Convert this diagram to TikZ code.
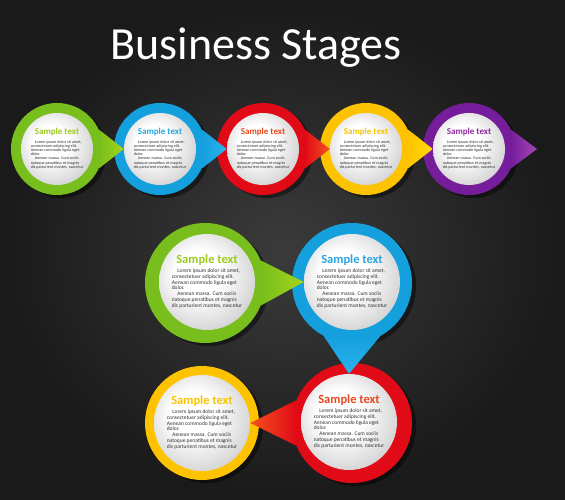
\documentclass[tikz,border=0pt]{standalone}
\usepackage{fontspec}
\setmainfont{Carlito}
\usetikzlibrary{shadows}

\definecolor{bgmid}{HTML}{3B3B3B}
\definecolor{bgdark}{HTML}{1A1A1A}
\definecolor{cgreen}{HTML}{78BE1C}
\definecolor{lgreen}{HTML}{A3D51C}
\definecolor{tgreen}{HTML}{9DCB1D}
\definecolor{cblue}{HTML}{149FDD}
\definecolor{lblue}{HTML}{2BB4EE}
\definecolor{tblue}{HTML}{2AA6DF}
\definecolor{cred}{HTML}{E10A17}
\definecolor{lred}{HTML}{F2521E}
\definecolor{tred}{HTML}{E8481D}
\definecolor{cyellow}{HTML}{FDC300}
\definecolor{lyellow}{HTML}{FFDE00}
\definecolor{tyellow}{HTML}{F8C400}
\definecolor{cpurple}{HTML}{761D9C}
\definecolor{lpurple}{HTML}{A447B6}
\definecolor{tpurple}{HTML}{8E2C9E}
\definecolor{bodytext}{HTML}{333333}

\pgfdeclarelayer{back}
\pgfdeclarelayer{front}
\pgfsetlayers{back,main,front}

\pgfdeclareradialshading{disc}{\pgfpoint{-6bp}{6bp}}{color(0bp)=(white); color(12bp)=(white); color(26bp)=(black!14); color(34bp)=(black!24); color(50bp)=(black!24)}

\newcommand\stagetext[3]{%
  \begin{tabular}{@{}l@{}}
    \multicolumn{1}{@{}c@{}}{\fontsize{#2}{#2}\selectfont\bfseries\color{#1}Sample text}\\[#3]
    \hspace{1em}Lorem ipsum dolor sit amet,\\
    consectetuer adipiscing elit.\\
    Aenean commodo ligula eget\\
    dolor.\\
    \hspace{1em}Aenean massa. Cum sociis\\
    natoque penatibus et magnis\\
    dis parturient montes, nascetur
  \end{tabular}}

\begin{document}
\begin{tikzpicture}[x=1pt,y=-1pt,
    ring/.style={circle,fill=#1,inner sep=0pt,minimum size=92pt,
      drop shadow={fill=black,opacity=.45,shadow xshift=4pt,shadow yshift=-3pt}},
    bigring/.style={ring=#1,minimum size=120pt},
    disc/.style={circle,inner sep=0pt,minimum size=72pt,shading=disc,
      text=bodytext,font=\fontsize{4.1}{4.2}\selectfont},
    bigdisc/.style={disc,minimum size=96pt,font=\fontsize{5.5}{5.8}\selectfont}]
  \begin{pgfonlayer}{back}
    \shade[inner color=bgmid,outer color=bgdark] (0,0) rectangle (565,500);
    \node[ring=cgreen]  (r1) at (57,149) {};
    \node[ring=cblue]   (r2) at (160,149) {};
    \node[ring=cred]    (r3) at (263,149) {};
    \node[ring=cyellow] (r4) at (366,149) {};
    \node[ring=cpurple] (r5) at (469,149) {};
    \node[bigring=cgreen]  (r6) at (205,283) {};
    \node[bigring=cblue]   (r7) at (352,283) {};
    \node[bigring=cred]    (r8) at (352,423) {};
    \node[bigring=cyellow,minimum size=114pt] (r9) at (202,423) {};
  \end{pgfonlayer}

  \begin{pgfonlayer}{front}
    \node[text=white,font=\fontsize{46}{46}\selectfont,anchor=base] (title) at (256,60) {Business Stages};
    \node[disc] (d1) at (57,149)  {\stagetext{tgreen}{9}{4pt}};
    \node[disc] (d2) at (160,149) {\stagetext{tblue}{9}{4pt}};
    \node[disc] (d3) at (263,149) {\stagetext{tred}{9}{4pt}};
    \node[disc] (d4) at (366,149) {\stagetext{tyellow}{9}{4pt}};
    \node[disc] (d5) at (469,149) {\stagetext{tpurple}{9}{4pt}};
    \node[bigdisc] (d6) at (207,282) {\stagetext{tgreen}{12.5}{3pt}};
    \node[bigdisc] (d7) at (352,282) {\stagetext{tblue}{12.5}{3pt}};
    \node[bigdisc] (d8) at (349,422) {\stagetext{tred}{12.5}{3pt}};
    \node[bigdisc] (d9) at (202,423) {\stagetext{tyellow}{12.5}{3pt}};
  \end{pgfonlayer}

  % pointers
  \coordinate (end) at (537,149);
  \path[left color=cgreen,right color=lgreen]   (r1.25) -- (d2.west) -- (r1.-25) -- cycle;
  \path[left color=cblue,right color=lblue]     (r2.25) -- (d3.west) -- (r2.-25) -- cycle;
  \path[left color=cred,right color=lred]       (r3.25) -- (d4.west) -- (r3.-25) -- cycle;
  \path[left color=cyellow,right color=lyellow] (r4.25) -- (d5.west) -- (r4.-25) -- cycle;
  \path[left color=cpurple,right color=lpurple] (r5.25) -- (end) -- (r5.-25) -- cycle;
  \path[left color=cgreen,right color=lgreen]   (r6.22) -- (d7.west) -- (r6.-22) -- cycle;
  \path[top color=cblue,bottom color=lblue]     (r7.-62) -- (d8.north) -- (r7.-118) -- cycle;
  \path[left color=lred,right color=cred]       (r8.158) -- (d9.east) -- (r8.202) -- cycle;
\end{tikzpicture}
\end{document}
